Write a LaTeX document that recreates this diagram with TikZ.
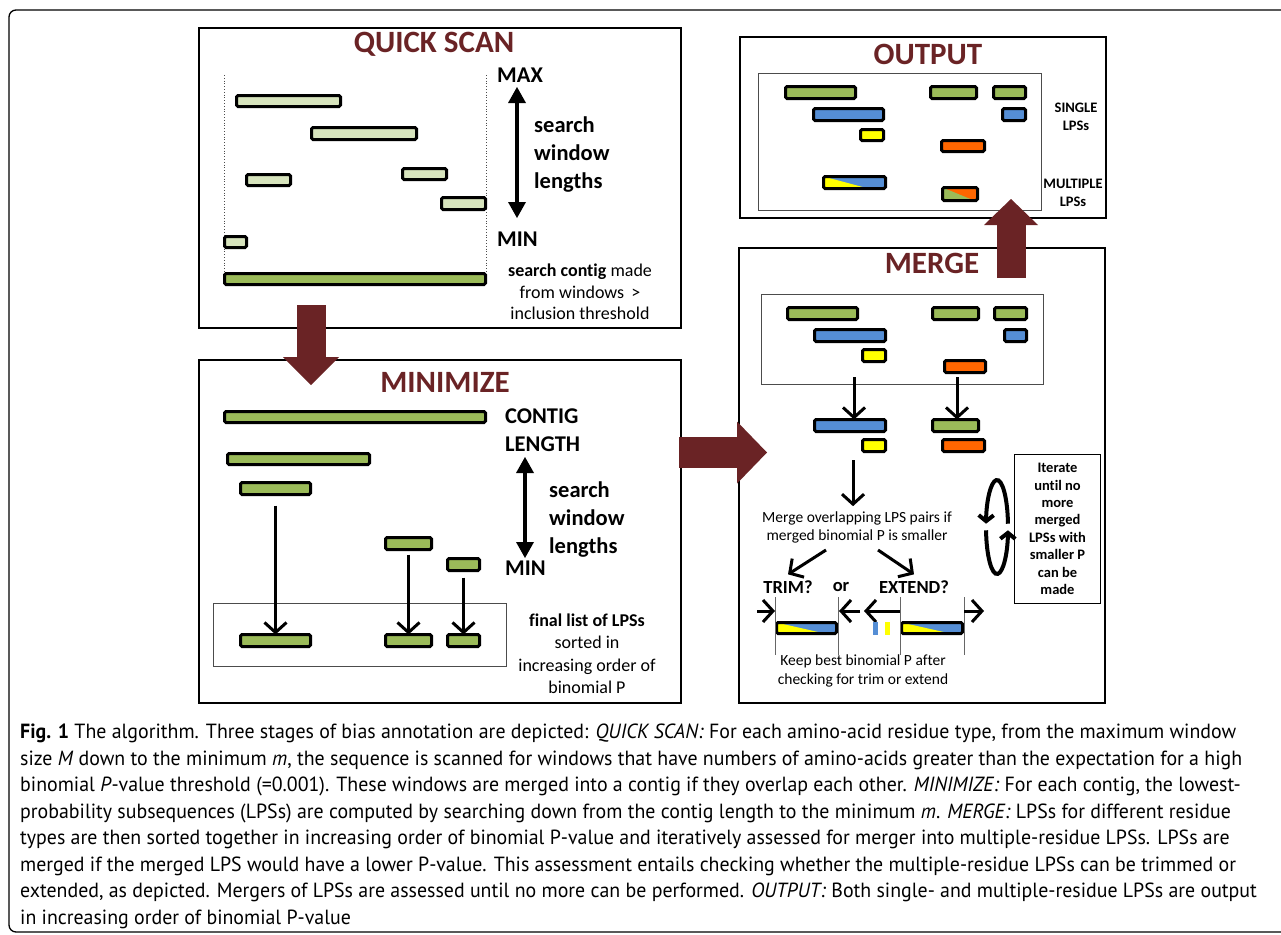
\documentclass[tikz,border=0pt]{standalone}
\usepackage{fontspec}
\setmainfont{Carlito}[Ligatures=NoCommon]
\newfontfamily\capfont{PT Sans}[FakeStretch=0.97]
\usetikzlibrary{arrows.meta,calc}

\definecolor{lgreen}{HTML}{D7E4BD}
\definecolor{dgreen}{HTML}{9BBB59}
\definecolor{lblue}{HTML}{558ED5}
\definecolor{lyellow}{HTML}{FFFF00}
\definecolor{lorange}{HTML}{FF6600}
\definecolor{darkred}{HTML}{6A2325}

\tikzset{
	stage/.style={draw=black, line width=2.5pt},
	inset/.style={draw=black!70, line width=1pt},
	lps/.style={draw=black, line width=3pt, rounded corners=1.5pt, inner sep=0pt, outer sep=0pt},
	split/.style 2 args={path picture={\fill[#1] (path picture bounding box.north west) -- (path picture bounding box.south west) -- ($(path picture bounding box.south west)!#2!(path picture bounding box.south east)$) -- cycle;}},
	title/.style={font=\fontsize{31}{31}\selectfont\bfseries, text=darkred, inner sep=0pt},
	big/.style={font=\fontsize{22.5}{28}\selectfont\bfseries, inner sep=0pt, align=left},
	note/.style={font=\fontsize{18}{21.5}\selectfont, inner sep=0pt, align=center},
	small/.style={font=\fontsize{15.5}{18.8}\selectfont, inner sep=0pt, align=center},
	tiny/.style={font=\fontsize{14.5}{17.4}\selectfont\bfseries, inner sep=0pt, align=center},
	tarrow/.style={line width=3pt, -{Straight Barb[length=10pt,width=22pt]}},
	dbl/.style={line width=4pt, {Triangle[length=16pt,width=18pt,line width=0pt]}-{Triangle[length=16pt,width=18pt,line width=0pt]}},
	blockarrow/.style={draw=darkred, line width=29pt, -{Triangle[length=28pt,width=56pt,line width=0pt]}},
	loop/.style={line width=4pt, -{Straight Barb[length=6pt,width=15pt]}},
	guide/.style={draw=black!60, line width=0.8pt},
}

\newcommand{\lps}[6]{\node[lps, #6, minimum width={(#4-#2-3)*1pt}, minimum height={(#5-#3-3)*1pt}] (#1) at ({(#2+#4)/2},{(#3+#5)/2}) {};}

\begin{document}
\begin{tikzpicture}[x=1pt, y=-1pt]
	\useasboundingbox (0,0) rectangle (1281,934);
	\clip (0,0) rectangle (1281,934);
	\draw[line width=1.3pt, rounded corners=7pt] (9,10) rectangle (1330,932);

	\draw[stage] (199,28) rectangle (681,328);
	\node[title] (tq) at (434,44) {QUICK SCAN};
	\draw[black!70, dotted, line width=0.8pt] (224,75) -- (224,273);
	\draw[black!70, dotted, line width=0.8pt] (486,75) -- (486,273);
	\lps{q1}{235}{94}{342}{108}{fill=lgreen}
	\lps{q2}{310}{126}{418}{141}{fill=lgreen}
	\lps{q3}{245}{173}{292}{187}{fill=lgreen}
	\lps{q4}{401}{167}{448}{181}{fill=lgreen}
	\lps{q5}{440}{196}{487}{211}{fill=lgreen}
	\lps{q6}{223}{235}{248}{249}{fill=lgreen}
	\lps{qc}{223}{272}{487}{286}{fill=dgreen}
	\node[big, anchor=west] (qmax) at (497,75) {MAX};
	\node[big, anchor=west] (qmin) at (497,239) {MIN};
	\coordinate (qtop) at (517,87);
	\coordinate (qbot) at (517,218);
	\draw[dbl] (qtop) -- (qbot);
	\node[big, anchor=west] (qlen) at (534,155) {search\\window\\lengths};
	\node[note] (qcontig) at (580,292) {\textbf{search contig} made\\from windows \,>\\inclusion threshold};

	\draw[stage] (199,360) rectangle (681,703);
	\node[title] (tm) at (445,382) {MINIMIZE};
	\lps{m1}{223}{410}{487}{424}{fill=dgreen}
	\lps{m2}{226}{452}{371}{466}{fill=dgreen}
	\lps{m3}{239}{481}{312}{496}{fill=dgreen}
	\lps{m4}{384}{536}{433}{551}{fill=dgreen}
	\lps{m5}{446}{557}{481}{572}{fill=dgreen}
	\draw[inset] (213,603) rectangle (506,666);
	\lps{ma}{239}{633}{312}{648}{fill=dgreen}
	\lps{mb}{384}{633}{433}{648}{fill=dgreen}
	\lps{mc}{446}{633}{481}{648}{fill=dgreen}
	\draw[tarrow, shorten <=11pt] (m3.south) -- (ma.north);
	\draw[tarrow, shorten <=5pt] (m4.south) -- (mb.north);
	\draw[tarrow, shorten <=7pt] (m5.south) -- (mc.north);
	\node[big, anchor=west] (mcontig) at (505,430) {CONTIG\\LENGTH};
	\node[big, anchor=west] (mmin) at (505,568) {MIN};
	\coordinate (mtop) at (525,457);
	\coordinate (mbot) at (525,558);
	\draw[dbl] (mtop) -- (mbot);
	\node[big, anchor=west] (mlen) at (549,519.5) {search\\window\\lengths};
	\node[note, font=\fontsize{18}{22.5}\selectfont] (mfinal) at (587,653.5) {\textbf{final list of LPSs}\\sorted in\\increasing order of\\binomial P};

	\draw[stage] (740,37) rectangle (1106,218);
	\node[title] (to) at (928,54) {OUTPUT};
	\draw[inset] (758,73) rectangle (1041,210);
	\lps{o1}{784}{85}{857}{100}{fill=dgreen}
	\lps{o2}{929}{85}{978}{100}{fill=dgreen}
	\lps{o3}{992}{85}{1027}{100}{fill=dgreen}
	\lps{o4}{812}{107}{885}{122}{fill=lblue}
	\lps{o5}{1001}{107}{1027}{122}{fill=lblue}
	\lps{o6}{859}{128}{885}{142}{fill=lyellow}
	\lps{o7}{940}{139}{986}{153}{fill=lorange}
	\lps{o8}{822}{175}{887}{190}{fill=lblue, split={lyellow}{0.72}}
	\lps{o9}{941}{186}{979}{202}{fill=lorange, split={dgreen}{0.9}}
	\node[tiny, font=\fontsize{14.5}{18}\selectfont\bfseries] (osingle) at (1076,117) {SINGLE\\LPSs};
	\node[tiny, font=\fontsize{14.5}{18}\selectfont\bfseries] (omulti) at (1073,193) {MULTIPLE\\LPSs};

	\draw[stage] (739,248) rectangle (1105,703);
	\node[title] (tg) at (932,263) {MERGE};
	\draw[inset] (761,294) rectangle (1043,384);
	\lps{g1}{786}{306}{859}{321}{fill=dgreen}
	\lps{g2}{931}{306}{980}{321}{fill=dgreen}
	\lps{g3}{993}{306}{1028}{321}{fill=dgreen}
	\lps{b1}{813}{328}{887}{343}{fill=lblue}
	\lps{b2}{1003}{328}{1028}{343}{fill=lblue}
	\lps{y1}{861}{348}{887}{363}{fill=lyellow}
	\lps{r1}{943}{359}{987}{374}{fill=lorange}
	\lps{b3}{813}{418}{887}{433}{fill=lblue}
	\lps{y2}{861}{438}{887}{453}{fill=lyellow}
	\lps{g4}{931}{418}{980}{433}{fill=dgreen}
	\lps{r2}{941}{438}{986}{453}{fill=lorange}
	\coordinate (gl) at (854,377);
	\coordinate (gr) at (957,377);
	\draw[tarrow] (gl) -- (gl |- b3.north);
	\draw[tarrow] (gr) -- (gr |- g4.north);
	\node[small] (gtext) at (857,527.5) {Merge overlapping LPS pairs if\\merged binomial P is smaller};
	\coordinate (gd) at (853,460);
	\draw[tarrow, shorten >=5pt] (gd) -- (gd |- gtext.north);
	\node[font=\fontsize{18.5}{18.5}\selectfont\bfseries, inner sep=0pt] (trim) at (788,587) {TRIM?};
	\node[font=\fontsize{18.5}{18.5}\selectfont\bfseries, inner sep=0pt] (gor) at (841,587) {or};
	\node[font=\fontsize{18.5}{18.5}\selectfont\bfseries, inner sep=0pt] (ext) at (914,587) {EXTEND?};
	\coordinate (tl) at (826,550);
	\coordinate (tr) at (878,550);
	\draw[tarrow] (tl) -- ([yshift=6pt]trim.north);
	\draw[tarrow] (tr) -- ([yshift=6pt]ext.north);
	\lps{t1}{775}{621}{838}{635}{fill=lblue, split={lyellow}{0.8}}
	\lps{t2}{900}{621}{964}{635}{fill=lblue, split={lyellow}{0.8}}
	\foreach \x in {775,838,900,964}
		\draw[guide] (\x,597) -- (\x,655);
	\coordinate (a1) at (757,611);
	\coordinate (a2) at (775,611);
	\coordinate (a3) at (860,611);
	\coordinate (a4) at (839,611);
	\coordinate (a5) at (900,611);
	\coordinate (a6) at (864,611);
	\coordinate (a7) at (964,611);
	\coordinate (a8) at (984,611);
	\draw[tarrow] (a1) -- (a2);
	\draw[tarrow] (a3) -- (a4);
	\draw[tarrow] (a5) -- (a6);
	\draw[tarrow] (a7) -- (a8);
	\fill[lblue] (873,622) rectangle (878,635);
	\fill[lyellow] (885,622) rectangle (890,635);
	\node[small, font=\fontsize{15.5}{18.5}\selectfont] (gkeep) at (863,671) {Keep best binomial P after\\checking for trim or extend};
	\node[tiny, draw, line width=1.2pt, minimum width=86pt, minimum height=149pt] (iter) at (1057.5,529) {Iterate\\until no\\more\\merged\\LPSs with\\smaller P\\can be\\made};
	\coordinate (cc) at (997,527);
	\draw[loop] (cc) ++(-4:11 and 47) arc[start angle=-4, end angle=-176, x radius=11, y radius=47];
	\draw[loop] (cc) ++(176:11 and 47) arc[start angle=176, end angle=4, x radius=11, y radius=47];

	\coordinate (qs) at (311,305);
	\coordinate (mi) at (311,385);
	\coordinate (mr) at (679,452.5);
	\coordinate (gm) at (767,452.5);
	\coordinate (gu) at (1011,278);
	\coordinate (ou) at (1011,199);
	\draw[blockarrow] (qs) -- (mi);
	\draw[blockarrow, line width=31pt, -{Triangle[length=30pt,width=62pt,line width=0pt]}] (mr) -- (gm);
	\draw[blockarrow, -{Triangle[length=26pt,width=54pt,line width=0pt]}] (gu) -- (ou);

	\node[anchor=north west, align=left, inner sep=0pt, font=\capfont\fontsize{20.5}{26.5}\selectfont] (cap) at (20,724) {\textbf{Fig. 1} The algorithm. Three stages of bias annotation are depicted: \textit{QUICK SCAN:} For each amino-acid residue type, from the maximum window\\
	size \textit{M} down to the minimum \textit{m}, the sequence is scanned for windows that have numbers of amino-acids greater than the expectation for a high\\
	binomial \textit{P}-value threshold (=0.001). These windows are merged into a contig if they overlap each other. \textit{MINIMIZE:} For each contig, the lowest-\\
	probability subsequences (LPSs) are computed by searching down from the contig length to the minimum \textit{m}. \textit{MERGE:} LPSs for different residue\\
	types are then sorted together in increasing order of binomial P-value and iteratively assessed for merger into multiple-residue LPSs. LPSs are\\
	merged if the merged LPS would have a lower P-value. This assessment entails checking whether the multiple-residue LPSs can be trimmed or\\
	extended, as depicted. Mergers of LPSs are assessed until no more can be performed. \textit{OUTPUT:} Both single- and multiple-residue LPSs are output\\
	in increasing order of binomial P-value};
\end{tikzpicture}
\end{document}
